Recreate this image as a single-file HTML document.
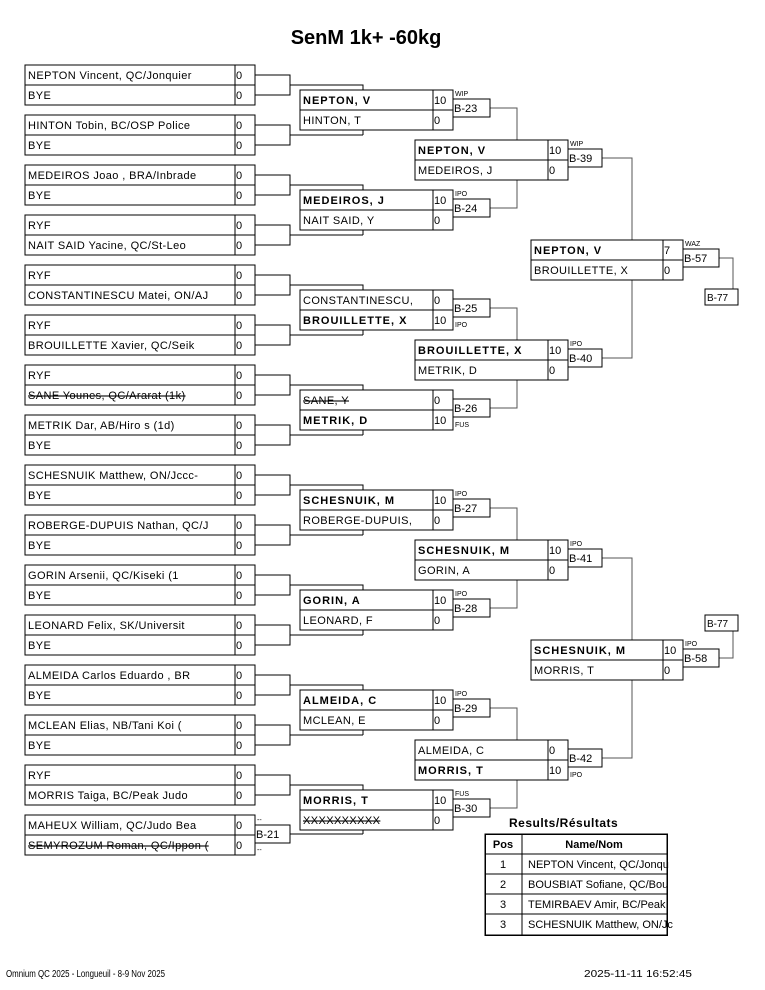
<!DOCTYPE html>
<html><head><meta charset="utf-8"><style>
body{margin:0;background:#fff}
svg{display:block}
text{font-family:"Liberation Sans",sans-serif;font-size:11px;fill:#000}
.b{font-weight:bold;letter-spacing:1px}
.n{letter-spacing:0.4px}
.s{text-decoration:line-through}
.l{font-size:7px}
rect{fill:#fff;stroke:#000;stroke-width:1}
path{fill:none;stroke:#000;stroke-width:1}
.g{stroke:#555}
</style></head><body>
<svg width="765" height="990" viewBox="0 0 765 990" shape-rendering="crispEdges">
<text x="366" y="44" text-anchor="middle" style="font-size:20px;font-weight:bold">SenM 1k+ -60kg</text>

<path d="M255,75H290V95H255M290,85H363V135M255,125H290V145H255M290,135H363"/>
<path d="M255,175H290V195H255M290,185H363V235M255,225H290V245H255M290,235H363"/>
<path d="M255,275H290V295H255M290,285H363V335M255,325H290V345H255M290,335H363"/>
<path d="M255,375H290V395H255M290,385H363V435M255,425H290V445H255M290,435H363"/>
<path d="M255,475H290V495H255M290,485H363V535M255,525H290V545H255M290,535H363"/>
<path d="M255,575H290V595H255M290,585H363V635M255,625H290V645H255M290,635H363"/>
<path d="M255,675H290V695H255M290,685H363V735M255,725H290V745H255M290,735H363"/>
<path d="M255,775H290V795H255M290,785H363V834M290,834H363"/>
<path class="g" d="M490,108H517V208H490M490,308H517V408H490M490,508H517V608H490M490,708H517V808H490"/>
<path class="g" d="M602,158H632V358H602M602,558H632V758H602"/>
<path class="g" d="M719,258H733V290M719,658H733V631"/>

<g>
<rect x="25" y="65" width="210" height="20"/><rect x="235" y="65" width="20" height="20"/><rect x="25" y="85" width="210" height="20"/><rect x="235" y="85" width="20" height="20"/>
<text class="n" x="28" y="79">NEPTON Vincent, QC/Jonquier</text><text x="236" y="79">0</text><text class="n" x="28" y="99">BYE</text><text x="236" y="99">0</text>
<rect x="25" y="115" width="210" height="20"/><rect x="235" y="115" width="20" height="20"/><rect x="25" y="135" width="210" height="20"/><rect x="235" y="135" width="20" height="20"/>
<text class="n" x="28" y="129">HINTON Tobin, BC/OSP Police</text><text x="236" y="129">0</text><text class="n" x="28" y="149">BYE</text><text x="236" y="149">0</text>
<rect x="25" y="165" width="210" height="20"/><rect x="235" y="165" width="20" height="20"/><rect x="25" y="185" width="210" height="20"/><rect x="235" y="185" width="20" height="20"/>
<text class="n" x="28" y="179">MEDEIROS Joao , BRA/Inbrade</text><text x="236" y="179">0</text><text class="n" x="28" y="199">BYE</text><text x="236" y="199">0</text>
<rect x="25" y="215" width="210" height="20"/><rect x="235" y="215" width="20" height="20"/><rect x="25" y="235" width="210" height="20"/><rect x="235" y="235" width="20" height="20"/>
<text class="n" x="28" y="229">RYF</text><text x="236" y="229">0</text><text class="n" x="28" y="249">NAIT SAID Yacine, QC/St-Leo</text><text x="236" y="249">0</text>
<rect x="25" y="265" width="210" height="20"/><rect x="235" y="265" width="20" height="20"/><rect x="25" y="285" width="210" height="20"/><rect x="235" y="285" width="20" height="20"/>
<text class="n" x="28" y="279">RYF</text><text x="236" y="279">0</text><text class="n" x="28" y="299">CONSTANTINESCU Matei, ON/AJ</text><text x="236" y="299">0</text>
<rect x="25" y="315" width="210" height="20"/><rect x="235" y="315" width="20" height="20"/><rect x="25" y="335" width="210" height="20"/><rect x="235" y="335" width="20" height="20"/>
<text class="n" x="28" y="329">RYF</text><text x="236" y="329">0</text><text class="n" x="28" y="349">BROUILLETTE Xavier, QC/Seik</text><text x="236" y="349">0</text>
<rect x="25" y="365" width="210" height="20"/><rect x="235" y="365" width="20" height="20"/><rect x="25" y="385" width="210" height="20"/><rect x="235" y="385" width="20" height="20"/>
<text class="n" x="28" y="379">RYF</text><text x="236" y="379">0</text><text class="n s" x="28" y="399">SANE Younes, QC/Ararat (1k)</text><text x="236" y="399">0</text>
<rect x="25" y="415" width="210" height="20"/><rect x="235" y="415" width="20" height="20"/><rect x="25" y="435" width="210" height="20"/><rect x="235" y="435" width="20" height="20"/>
<text class="n" x="28" y="429">METRIK Dar, AB/Hiro s (1d)</text><text x="236" y="429">0</text><text class="n" x="28" y="449">BYE</text><text x="236" y="449">0</text>
<rect x="25" y="465" width="210" height="20"/><rect x="235" y="465" width="20" height="20"/><rect x="25" y="485" width="210" height="20"/><rect x="235" y="485" width="20" height="20"/>
<text class="n" x="28" y="479">SCHESNUIK Matthew, ON/Jccc-</text><text x="236" y="479">0</text><text class="n" x="28" y="499">BYE</text><text x="236" y="499">0</text>
<rect x="25" y="515" width="210" height="20"/><rect x="235" y="515" width="20" height="20"/><rect x="25" y="535" width="210" height="20"/><rect x="235" y="535" width="20" height="20"/>
<text class="n" x="28" y="529">ROBERGE-DUPUIS Nathan, QC/J</text><text x="236" y="529">0</text><text class="n" x="28" y="549">BYE</text><text x="236" y="549">0</text>
<rect x="25" y="565" width="210" height="20"/><rect x="235" y="565" width="20" height="20"/><rect x="25" y="585" width="210" height="20"/><rect x="235" y="585" width="20" height="20"/>
<text class="n" x="28" y="579">GORIN Arsenii, QC/Kiseki (1</text><text x="236" y="579">0</text><text class="n" x="28" y="599">BYE</text><text x="236" y="599">0</text>
<rect x="25" y="615" width="210" height="20"/><rect x="235" y="615" width="20" height="20"/><rect x="25" y="635" width="210" height="20"/><rect x="235" y="635" width="20" height="20"/>
<text class="n" x="28" y="629">LEONARD Felix, SK/Universit</text><text x="236" y="629">0</text><text class="n" x="28" y="649">BYE</text><text x="236" y="649">0</text>
<rect x="25" y="665" width="210" height="20"/><rect x="235" y="665" width="20" height="20"/><rect x="25" y="685" width="210" height="20"/><rect x="235" y="685" width="20" height="20"/>
<text class="n" x="28" y="679">ALMEIDA Carlos Eduardo , BR</text><text x="236" y="679">0</text><text class="n" x="28" y="699">BYE</text><text x="236" y="699">0</text>
<rect x="25" y="715" width="210" height="20"/><rect x="235" y="715" width="20" height="20"/><rect x="25" y="735" width="210" height="20"/><rect x="235" y="735" width="20" height="20"/>
<text class="n" x="28" y="729">MCLEAN Elias, NB/Tani Koi (</text><text x="236" y="729">0</text><text class="n" x="28" y="749">BYE</text><text x="236" y="749">0</text>
<rect x="25" y="765" width="210" height="20"/><rect x="235" y="765" width="20" height="20"/><rect x="25" y="785" width="210" height="20"/><rect x="235" y="785" width="20" height="20"/>
<text class="n" x="28" y="779">RYF</text><text x="236" y="779">0</text><text class="n" x="28" y="799">MORRIS Taiga, BC/Peak Judo</text><text x="236" y="799">0</text>
<rect x="25" y="815" width="210" height="20"/><rect x="235" y="815" width="20" height="20"/><rect x="25" y="835" width="210" height="20"/><rect x="235" y="835" width="20" height="20"/>
<text class="n" x="28" y="829">MAHEUX William, QC/Judo Bea</text><text x="236" y="829">0</text><text class="n s" x="28" y="849">SEMYROZUM Roman, QC/Ippon (</text><text x="236" y="849">0</text>
<rect x="255" y="825" width="35" height="18"/><text x="256" y="838">B-21</text>
<text class="l" x="257" y="822">--</text><text class="l" x="257" y="852">--</text>
</g>

<g>
<rect x="300" y="90" width="133" height="20"/><rect x="433" y="90" width="20" height="20"/><rect x="300" y="110" width="133" height="20"/><rect x="433" y="110" width="20" height="20"/>
<text class="b" x="303" y="104">NEPTON, V</text><text x="434" y="104">10</text><text class="n" x="303" y="124">HINTON, T</text><text x="434" y="124">0</text>
<rect x="453" y="99" width="37" height="18"/><text x="454" y="112">B-23</text><text class="l" x="455" y="96">WIP</text>

<rect x="300" y="190" width="133" height="20"/><rect x="433" y="190" width="20" height="20"/><rect x="300" y="210" width="133" height="20"/><rect x="433" y="210" width="20" height="20"/>
<text class="b" x="303" y="204">MEDEIROS, J</text><text x="434" y="204">10</text><text class="n" x="303" y="224">NAIT SAID, Y</text><text x="434" y="224">0</text>
<rect x="453" y="199" width="37" height="18"/><text x="454" y="212">B-24</text><text class="l" x="455" y="196">IPO</text>

<rect x="300" y="290" width="133" height="20"/><rect x="433" y="290" width="20" height="20"/><rect x="300" y="310" width="133" height="20"/><rect x="433" y="310" width="20" height="20"/>
<text class="n" x="303" y="304">CONSTANTINESCU,</text><text x="434" y="304">0</text><text class="b" x="303" y="324">BROUILLETTE, X</text><text x="434" y="324">10</text>
<rect x="453" y="299" width="37" height="18"/><text x="454" y="312">B-25</text><text class="l" x="455" y="327">IPO</text>

<rect x="300" y="390" width="133" height="20"/><rect x="433" y="390" width="20" height="20"/><rect x="300" y="410" width="133" height="20"/><rect x="433" y="410" width="20" height="20"/>
<text class="n s" x="303" y="404">SANE, Y</text><text x="434" y="404">0</text><text class="b" x="303" y="424">METRIK, D</text><text x="434" y="424">10</text>
<rect x="453" y="399" width="37" height="18"/><text x="454" y="412">B-26</text><text class="l" x="455" y="427">FUS</text>

<rect x="300" y="490" width="133" height="20"/><rect x="433" y="490" width="20" height="20"/><rect x="300" y="510" width="133" height="20"/><rect x="433" y="510" width="20" height="20"/>
<text class="b" x="303" y="504">SCHESNUIK, M</text><text x="434" y="504">10</text><text class="n" x="303" y="524">ROBERGE-DUPUIS,</text><text x="434" y="524">0</text>
<rect x="453" y="499" width="37" height="18"/><text x="454" y="512">B-27</text><text class="l" x="455" y="496">IPO</text>

<rect x="300" y="590" width="133" height="20"/><rect x="433" y="590" width="20" height="20"/><rect x="300" y="610" width="133" height="20"/><rect x="433" y="610" width="20" height="20"/>
<text class="b" x="303" y="604">GORIN, A</text><text x="434" y="604">10</text><text class="n" x="303" y="624">LEONARD, F</text><text x="434" y="624">0</text>
<rect x="453" y="599" width="37" height="18"/><text x="454" y="612">B-28</text><text class="l" x="455" y="596">IPO</text>

<rect x="300" y="690" width="133" height="20"/><rect x="433" y="690" width="20" height="20"/><rect x="300" y="710" width="133" height="20"/><rect x="433" y="710" width="20" height="20"/>
<text class="b" x="303" y="704">ALMEIDA, C</text><text x="434" y="704">10</text><text class="n" x="303" y="724">MCLEAN, E</text><text x="434" y="724">0</text>
<rect x="453" y="699" width="37" height="18"/><text x="454" y="712">B-29</text><text class="l" x="455" y="696">IPO</text>

<rect x="300" y="790" width="133" height="20"/><rect x="433" y="790" width="20" height="20"/><rect x="300" y="810" width="133" height="20"/><rect x="433" y="810" width="20" height="20"/>
<text class="b" x="303" y="804">MORRIS, T</text><text x="434" y="804">10</text><text class="n s" x="303" y="824">XXXXXXXXXX</text><text x="434" y="824">0</text>
<rect x="453" y="799" width="37" height="18"/><text x="454" y="812">B-30</text><text class="l" x="455" y="796">FUS</text>
</g>

<g>
<rect x="415" y="140" width="133" height="20"/><rect x="548" y="140" width="20" height="20"/><rect x="415" y="160" width="133" height="20"/><rect x="548" y="160" width="20" height="20"/>
<text class="b" x="418" y="154">NEPTON, V</text><text x="549" y="154">10</text><text class="n" x="418" y="174">MEDEIROS, J</text><text x="549" y="174">0</text>
<rect x="568" y="149" width="34" height="18"/><text x="569" y="162">B-39</text><text class="l" x="570" y="146">WIP</text>

<rect x="415" y="340" width="133" height="20"/><rect x="548" y="340" width="20" height="20"/><rect x="415" y="360" width="133" height="20"/><rect x="548" y="360" width="20" height="20"/>
<text class="b" x="418" y="354">BROUILLETTE, X</text><text x="549" y="354">10</text><text class="n" x="418" y="374">METRIK, D</text><text x="549" y="374">0</text>
<rect x="568" y="349" width="34" height="18"/><text x="569" y="362">B-40</text><text class="l" x="570" y="346">IPO</text>

<rect x="415" y="540" width="133" height="20"/><rect x="548" y="540" width="20" height="20"/><rect x="415" y="560" width="133" height="20"/><rect x="548" y="560" width="20" height="20"/>
<text class="b" x="418" y="554">SCHESNUIK, M</text><text x="549" y="554">10</text><text class="n" x="418" y="574">GORIN, A</text><text x="549" y="574">0</text>
<rect x="568" y="549" width="34" height="18"/><text x="569" y="562">B-41</text><text class="l" x="570" y="546">IPO</text>

<rect x="415" y="740" width="133" height="20"/><rect x="548" y="740" width="20" height="20"/><rect x="415" y="760" width="133" height="20"/><rect x="548" y="760" width="20" height="20"/>
<text class="n" x="418" y="754">ALMEIDA, C</text><text x="549" y="754">0</text><text class="b" x="418" y="774">MORRIS, T</text><text x="549" y="774">10</text>
<rect x="568" y="749" width="34" height="18"/><text x="569" y="762">B-42</text><text class="l" x="570" y="777">IPO</text>
</g>

<g>
<rect x="531" y="240" width="132" height="20"/><rect x="663" y="240" width="20" height="20"/><rect x="531" y="260" width="132" height="20"/><rect x="663" y="260" width="20" height="20"/>
<text class="b" x="534" y="254">NEPTON, V</text><text x="664" y="254">7</text><text class="n" x="534" y="274">BROUILLETTE, X</text><text x="664" y="274">0</text>
<rect x="683" y="249" width="36" height="18"/><text x="684" y="262">B-57</text><text class="l" x="685" y="246">WAZ</text>
<rect x="705" y="289" width="33" height="16"/><text x="707" y="301" style="font-size:10px">B-77</text>

<rect x="531" y="640" width="132" height="20"/><rect x="663" y="640" width="20" height="20"/><rect x="531" y="660" width="132" height="20"/><rect x="663" y="660" width="20" height="20"/>
<text class="b" x="534" y="654">SCHESNUIK, M</text><text x="664" y="654">10</text><text class="n" x="534" y="674">MORRIS, T</text><text x="664" y="674">0</text>
<rect x="683" y="649" width="36" height="18"/><text x="684" y="662">B-58</text><text class="l" x="685" y="646">IPO</text>
<rect x="705" y="615" width="33" height="16"/><text x="707" y="627" style="font-size:10px">B-77</text>
</g>

<text x="509" y="827" style="font-size:12px;font-weight:bold;letter-spacing:0.5px">Results/Résultats</text>
<rect x="485" y="834" width="182" height="101" style="stroke-width:1.5"/>
<path d="M485,854H667M485,874H667M485,894H667M485,914H667M522,834V935"/>
<text x="503" y="848" text-anchor="middle" style="font-weight:bold">Pos</text>
<text x="594" y="848" text-anchor="middle" style="font-weight:bold">Name/Nom</text>
<text x="503" y="868" text-anchor="middle">1</text><text x="528" y="868">NEPTON Vincent, QC/Jonqu</text>
<text x="503" y="888" text-anchor="middle">2</text><text x="528" y="888">BOUSBIAT Sofiane, QC/Bou</text>
<text x="503" y="908" text-anchor="middle">3</text><text x="528" y="908">TEMIRBAEV Amir, BC/Peak</text>
<text x="503" y="928" text-anchor="middle">3</text><text x="528" y="928">SCHESNUIK Matthew, ON/Jc</text>

<text x="6" y="977" style="font-size:10px" textLength="159" lengthAdjust="spacingAndGlyphs">Omnium QC 2025 - Longueuil - 8-9 Nov 2025</text>
<text x="584" y="977" style="font-size:10px" textLength="108" lengthAdjust="spacingAndGlyphs">2025-11-11 16:52:45</text>
</svg>
</body></html>
